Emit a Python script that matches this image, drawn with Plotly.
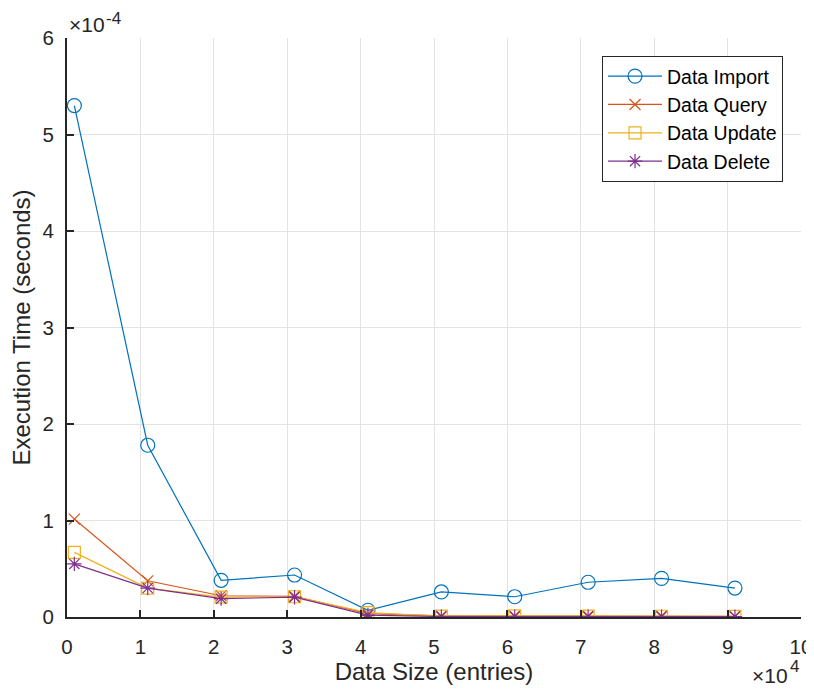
import plotly.graph_objects as go

data_size = [1000, 11000, 21000, 31000, 41000, 51000, 61000, 71000, 81000, 91000]
import_time = [5.30e-4, 1.78e-4, 0.38e-4, 0.435e-4, 0.07e-4, 0.26e-4, 0.21e-4, 0.36e-4, 0.40e-4, 0.30e-4]
query_time = [1.015e-4, 0.375e-4, 0.22e-4, 0.215e-4, 0.035e-4, 0.012e-4, 0.012e-4, 0.012e-4, 0.010e-4, 0.008e-4]
update_time = [0.67e-4, 0.30e-4, 0.205e-4, 0.21e-4, 0.045e-4, 0.010e-4, 0.012e-4, 0.010e-4, 0.008e-4, 0.006e-4]
delete_time = [0.55e-4, 0.30e-4, 0.19e-4, 0.205e-4, 0.02e-4, 0.004e-4, 0.004e-4, 0.004e-4, 0.003e-4, 0.003e-4]

y_tickvals = [0, 1e-4, 2e-4, 3e-4, 4e-4, 5e-4, 6e-4]
y_ticktext = ["0", "1", "2", "3", "4", "5", "6"]
x_tickvals = [0, 10000, 20000, 30000, 40000, 50000, 60000, 70000, 80000, 90000, 100000]
x_ticktext = ["0", "1", "2", "3", "4", "5", "6", "7", "8", "9", "10"]

series = [
    ("Data Import", import_time, "#0072BD", "circle-open", 14),
    ("Data Query", query_time, "#D95319", "x-thin-open", 11),
    ("Data Update", update_time, "#EDB120", "square-open", 12),
    ("Data Delete", delete_time, "#7E2F8E", "asterisk-open", 12),
]

fig = go.Figure()
for name, vals, color, sym, size in series:
    fig.add_trace(go.Scatter(
        x=data_size, y=vals, name=name, mode="lines+markers",
        line=dict(color=color, width=1.2),
        marker=dict(symbol=sym, size=size, color=color, line=dict(color=color, width=1.2)),
    ))

font_family = "Liberation Sans, Arial, sans-serif"
txt = "#262626"
fig.update_layout(
    width=806, height=682,
    margin=dict(l=59, r=13, t=30, b=73),
    paper_bgcolor="white", plot_bgcolor="white",
    font=dict(family=font_family, color=txt, size=20),
    showlegend=True,
    legend=dict(
        x=0.9755, y=0.969, xanchor="right", yanchor="top",
        bgcolor="white", bordercolor=txt, borderwidth=1,
        font=dict(size=19.5, color="#000000"),
        itemwidth=54, tracegroupgap=0,
    ),
    xaxis=dict(
        range=[0, 100000], tickvals=x_tickvals, ticktext=x_ticktext,
        showgrid=True, gridcolor="#E3E3E3", gridwidth=1,
        showline=True, linecolor=txt, linewidth=2,
        ticks="inside", ticklen=7, tickwidth=2, tickcolor=txt,
        tickfont=dict(size=20.5, color=txt), ticklabelstandoff=10,
        title=dict(text="Data Size (entries)", font=dict(size=24, color=txt), standoff=4),
        zeroline=False, mirror=False, automargin=False,
    ),
    yaxis=dict(
        range=[0, 6e-4], tickvals=y_tickvals, ticktext=y_ticktext,
        showgrid=True, gridcolor="#E3E3E3", gridwidth=1,
        showline=True, linecolor=txt, linewidth=2,
        ticks="inside", ticklen=7, tickwidth=2, tickcolor=txt,
        tickfont=dict(size=20.5, color=txt), ticklabelstandoff=7,
        title=dict(text="Execution Time (seconds)", font=dict(size=24, color=txt), standoff=8),
        zeroline=False, mirror=False, automargin=False,
    ),
    annotations=[
        dict(text="×10", xref="paper", yref="paper", x=0, y=1,
             xanchor="left", yanchor="bottom", showarrow=False,
             font=dict(size=21, color=txt), xshift=0, yshift=0),
        dict(text="-4", xref="paper", yref="paper", x=0, y=1,
             xanchor="left", yanchor="bottom", showarrow=False,
             font=dict(size=17, color=txt), xshift=37, yshift=8),
        dict(text="×10", xref="paper", yref="paper", x=1, y=0,
             xanchor="left", yanchor="bottom", showarrow=False,
             font=dict(size=21, color=txt), xshift=-51, yshift=-72),
        dict(text="4", xref="paper", yref="paper", x=1, y=0,
             xanchor="left", yanchor="bottom", showarrow=False,
             font=dict(size=17, color=txt), xshift=-13, yshift=-61),
    ],
)

fig.write_html("out.html")
